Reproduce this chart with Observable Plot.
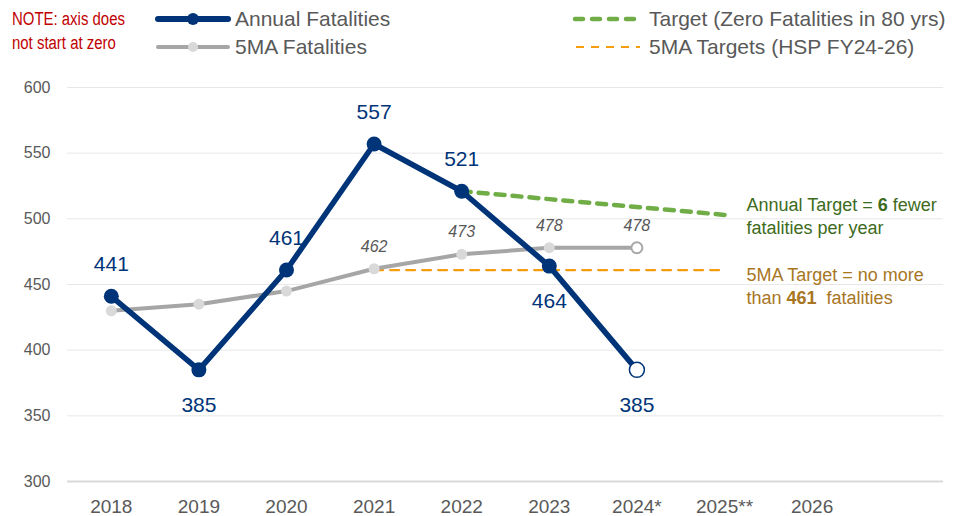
<!DOCTYPE html>
<html><head><meta charset="utf-8">
<script src="https://cdn.jsdelivr.net/npm/d3@7"></script>
<script src="https://cdn.jsdelivr.net/npm/@observablehq/plot@0.6"></script>
<style>
body{margin:0;background:#fff;font-family:Arial,"Liberation Sans",sans-serif;}
#wrap{position:relative;width:955px;height:516px;overflow:hidden;}
#legend{position:absolute;left:0;top:0;width:955px;height:80px;}
#chart{position:absolute;left:0;top:80px;}
.note{position:absolute;left:12px;top:7px;color:#c00000;font-size:18px;line-height:24px;transform:scaleX(0.83);transform-origin:left top;white-space:nowrap;}
.item{position:absolute;display:flex;align-items:center;color:#595959;font-size:21px;white-space:nowrap;}
.item svg{margin-right:4px;}
</style></head><body>
<div id="wrap">
<div id="legend">
  <div class="note">NOTE: axis does<br>not start at zero</div>
  <div class="item" style="left:155px;top:6px;"><svg width="76" height="26"><line x1="3" y1="13" x2="73" y2="13" stroke="#003478" stroke-width="6" stroke-linecap="round"/><circle cx="38" cy="13" r="6" fill="#003478"/></svg>Annual Fatalities</div>
  <div class="item" style="left:155px;top:34px;"><svg width="76" height="26"><line x1="3" y1="13" x2="73" y2="13" stroke="#a6a6a6" stroke-width="4" stroke-linecap="round"/><circle cx="38" cy="13" r="5" fill="#d9d9d9"/></svg>5MA Fatalities</div>
  <div class="item" style="left:571px;top:6px;"><svg width="74" height="26"><line x1="4" y1="13" x2="70" y2="13" stroke="#70ad47" stroke-width="4.5" stroke-linecap="round" stroke-dasharray="8,9"/></svg>Target (Zero Fatalities in 80 yrs)</div>
  <div class="item" style="left:571px;top:34px;"><svg width="74" height="26"><line x1="5" y1="13" x2="69" y2="13" stroke="#f59d0e" stroke-width="2.2" stroke-dasharray="8,7"/></svg>5MA Targets (HSP FY24-26)</div>
</div>
<div id="chart"></div>
</div>
<script>
const years = ["2018","2019","2020","2021","2022","2023","2024*","2025**","2026"];
const annualYears = ["2018","2019","2020","2021","2022","2023","2024*"];
const annual = [441,385,461,557,521,464,385];
const annualLabelSide = ["top","bottom","top","top","top","bottom","bottom"];
const ma5 = [430,435,445,462,473,478,478];
const ma5Labelled = [false,false,false,true,true,true,true];
const targetYears = ["2022","2023","2024*","2025**"];
const targetValues = [521,515,509,503];
const maTargetYears = ["2021","2022","2023","2024*","2025**"];
const maTargetValues = [461,461,461,461,461];
const yTicks = [300,350,400,450,500,550,600];

const idx = y => years.indexOf(y);
const annualData = annualYears.map((y,i)=>({x:idx(y), v:annual[i], side:annualLabelSide[i], last:i===annualYears.length-1}));
const maData = annualYears.map((y,i)=>({x:idx(y), v:ma5[i], lab:ma5Labelled[i], last:i===annualYears.length-1}));
const tgt = targetYears.map((y,i)=>({x:idx(y), v:targetValues[i]}));
const maTgt = maTargetYears.map((y,i)=>({x:idx(y), v:maTargetValues[i]}));
const tEnd = tgt[tgt.length-1];
const mEnd = maTgt[maTgt.length-1];

const font = 'Arial,"Liberation Sans",sans-serif';
const blue = "#003478";

const chart = Plot.plot({
  width: 955, height: 436,
  marginTop: 7, marginBottom: 35, marginLeft: 67, marginRight: 12,
  style: {fontFamily: font, background: "#fff", overflow: "visible"},
  x: {domain: [-0.5, 9.5]},
  y: {domain: [300, 600]},
  marks: [
    Plot.gridY(yTicks.slice(1), {stroke: "#e8e8e8", strokeOpacity: 1, strokeWidth: 1}),
    Plot.ruleY([300], {stroke: "#d9d9d9", strokeWidth: 2}),
    Plot.axisY({ticks: yTicks, tickSize: 0, tickPadding: 17, fontSize: 16, fill: "#595959", label: null}),
    Plot.axisX({ticks: d3.range(years.length), tickFormat: i => years[i], tickSize: 0, tickPadding: 18, fontSize: 19, fill: "#595959", label: null}),
    Plot.line(tgt, {x: "x", y: "v", stroke: "#70ad47", strokeWidth: 4.5, strokeDasharray: "9,8", strokeLinecap: "round"}),
    Plot.line(maTgt, {x: "x", y: "v", stroke: "#f59d0e", strokeWidth: 2.2, strokeDasharray: "9,7"}),
    Plot.line(maData, {x: "x", y: "v", stroke: "#a6a6a6", strokeWidth: 4}),
    Plot.dot(maData, {x: "x", y: "v", r: 5.5, fill: d => d.last ? "#fff" : "#d9d9d9", stroke: d => d.last ? "#a6a6a6" : "none", strokeWidth: 2}),
    Plot.text(maData.filter(d=>d.lab), {x: "x", y: "v", text: d => String(d.v), dy: -22, fontSize: 16, fontStyle: "italic", fill: "#595959"}),
    Plot.line(annualData, {x: "x", y: "v", stroke: blue, strokeWidth: 5.5}),
    Plot.dot(annualData, {x: "x", y: "v", r: 7.5, fill: d => d.last ? "#fff" : blue, stroke: blue, strokeWidth: d => d.last ? 1.5 : 0}),
    Plot.text(annualData.filter(d=>d.side==="top"), {x: "x", y: "v", text: d => String(d.v), dy: -32, fontSize: 21, fill: blue}),
    Plot.text(annualData.filter(d=>d.side==="bottom"), {x: "x", y: "v", text: d => String(d.v), dy: 35, fontSize: 21, fill: blue}),
    Plot.text([tEnd], {x: "x", y: "v", text: () => "Annual Target = 6 fewer\nfatalities per year", dx: 22, dy: 0, textAnchor: "start", lineHeight: 1.3, fontSize: 18, fill: "#3d6b21"}),
    Plot.text([mEnd], {x: "x", y: "v", text: () => "5MA Target = no more\nthan 461  fatalities", dx: 22, dy: 15, textAnchor: "start", lineHeight: 1.3, fontSize: 18, fill: "#a8761f"})
  ]
});
document.getElementById("chart").appendChild(chart);
// bold the key numbers in the annotations
d3.select(chart).selectAll("tspan, text").each(function(){
  const el = this;
  if (el.childNodes.length === 1 && el.childNodes[0].nodeType === 3) {
    const t = el.textContent;
    if (t.startsWith("Annual Target = 6")) el.innerHTML = 'Annual Target = <tspan font-weight="bold">6</tspan> fewer';
    else if (t.startsWith("than 461")) el.innerHTML = 'than <tspan font-weight="bold">461</tspan>  fatalities';
  }
});
</script>
</body></html>
